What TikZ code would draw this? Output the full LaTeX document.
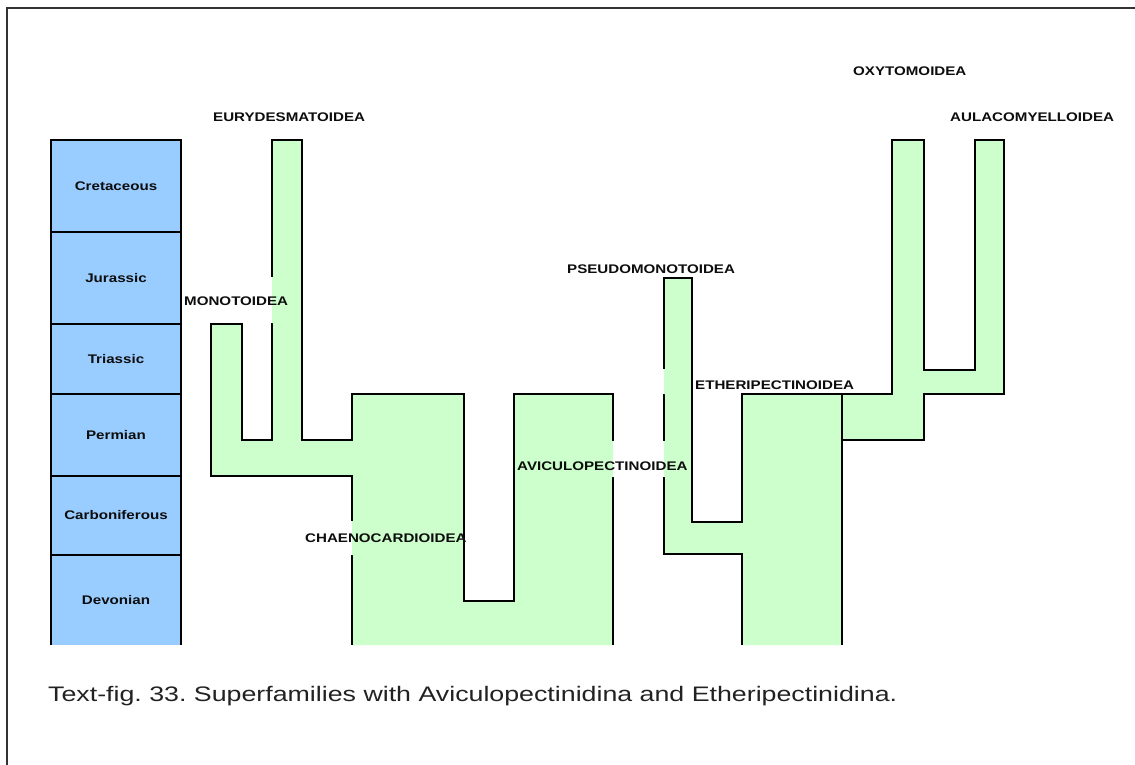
\documentclass[tikz,border=0pt]{standalone}
\usepackage{fontspec}
\setmainfont{Liberation Sans}
\newfontfamily\labfont[FakeStretch=1.21]{Liberation Sans}
\newfontfamily\capfont{Liberation Sans}
\definecolor{eraBlue}{HTML}{99CCFF}
\definecolor{cladeGreen}{HTML}{CCFFCC}
\definecolor{frameGray}{HTML}{333333}
\definecolor{capGray}{HTML}{222222}
\newcommand\pathA{(613,645) -- (613,394) -- (514,394) -- (514,601) -- (464,601) -- (464,394) -- (352,394) -- (352,440) -- (302,440) -- (302,140) -- (272,140) -- (272,440) -- (242,440) -- (242,324) -- (211,324) -- (211,476) -- (352,476) -- (352,645)}
\newcommand\pathB{(742,645) -- (742,554) -- (664,554) -- (664,278) -- (692,278) -- (692,522) -- (742,522) -- (742,394) -- (842,394) -- (842,645)}
\newcommand\pathC{(842,394) -- (892,394) -- (892,140) -- (924,140) -- (924,370) -- (975,370) -- (975,140) -- (1004,140) -- (1004,394) -- (924,394) -- (924,440) -- (842,440) -- cycle}
\tikzset{
  outline/.style={draw=black, line width=2.9pt, line join=miter},
  greenfill/.style={fill=cladeGreen},
  eralabel/.style={font=\labfont\bfseries\fontsize{12.5}{14}\selectfont, text=black!95, inner sep=0pt, anchor=base},
  cladelabel/.style={font=\labfont\bfseries\fontsize{12.5}{14}\selectfont, text=black!95, inner sep=0pt, anchor=base west},
}
\begin{document}
\frenchspacing
\begin{tikzpicture}[x=1pt,y=-1pt]
\useasboundingbox (0,0) rectangle (1135,764);
\fill[white] (0,0) rectangle (1135,764);
% frame
\draw[frameGray, line width=2.8pt] (7,770) -- (7,8) -- (1140,8);
% era column
\fill[eraBlue] (51,140) rectangle (181,645);
\draw[black, line width=2.9pt] (51,645) -- (51,140) -- (181,140) -- (181,645);
\foreach \yy in {232,324,394,476,555} \draw[black, line width=2.9pt] (51,\yy) -- (181,\yy);
% clades
\fill[greenfill] \pathA -- cycle;
\draw[outline] \pathA;
\fill[greenfill] \pathB -- cycle;
\draw[outline] \pathB;
\fill[greenfill] \pathC;
\draw[outline] \pathC;
% label backgrounds cutting outlines
\fill[white] (268,277) rectangle (276,323);
\fill[white] (348,521) rectangle (356,555);
\fill[white] (609,441) rectangle (617,477);
\fill[white] (660,441) rectangle (668,477);
\fill[white] (660,369) rectangle (668,394);
\begin{scope}
\clip (268,277) rectangle (276,323) (348,521) rectangle (356,555) (609,441) rectangle (617,477) (660,441) rectangle (668,477) (660,369) rectangle (668,394);
\fill[greenfill] \pathA -- cycle;
\fill[greenfill] \pathB -- cycle;
\end{scope}
% era labels
\node[eralabel] (cret) at (116,190) {Cretaceous};
\node[eralabel] (jur) at (116,282) {Jurassic};
\node[eralabel] (tri) at (116,363.5) {Triassic};
\node[eralabel] (perm) at (116,439.5) {Permian};
\node[eralabel] (carb) at (116,519.5) {Carboniferous};
\node[eralabel] (dev) at (116,604.5) {Devonian};
% clade labels
\node[cladelabel] (eury) at (213,121.5) {EURYDESMATOIDEA};
\node[cladelabel] (oxy) at (853,75.5) {OXYTOMOIDEA};
\node[cladelabel] (aula) at (950,121.5) {AULACOMYELLOIDEA};
\node[cladelabel] (mono) at (184,305.5) {MONOTOIDEA};
\node[cladelabel] (chaeno) at (305,542.5) {CHAENOCARDIOIDEA};
\node[cladelabel] (avic) at (517,470.5) {AVICULOPECTINOIDEA};
\node[cladelabel] (pseudo) at (567,273.5) {PSEUDOMONOTOIDEA};
\node[cladelabel] (ether) at (695,389.5) {ETHERIPECTINOIDEA};
% caption
\node[text=capGray, inner sep=0pt, anchor=base west] (caption) at (48,701) {\resizebox{849pt}{\height}{\capfont\fontsize{21}{24}\selectfont Text-fig. 33. Superfamilies with Aviculopectinidina and Etheripectinidina.}};
\end{tikzpicture}
\end{document}
